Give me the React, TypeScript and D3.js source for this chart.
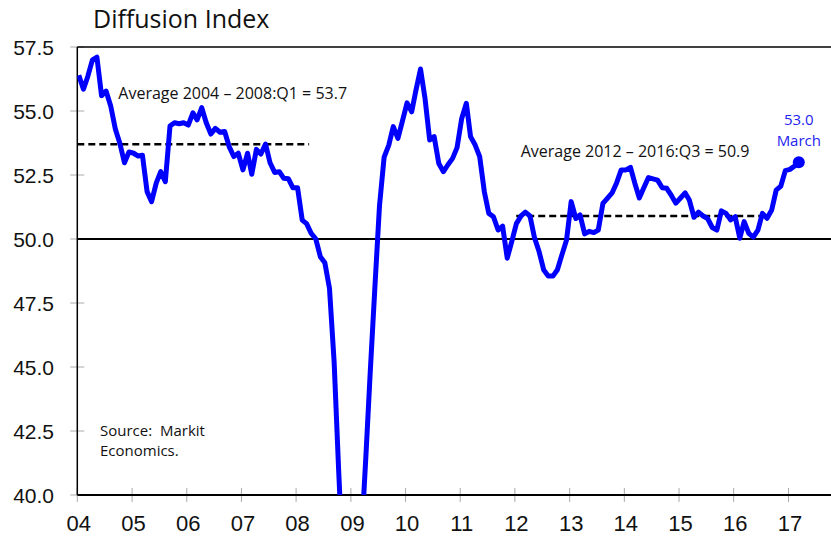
import React, { useEffect, useRef } from "react";
import * as d3 from "d3";

// monthly diffusion index, Jan 2004 .. Mar 2017
const startYear = 2004;
const values: number[] = [
  // 2004
  56.4, 55.85, 56.35, 57.0, 57.1, 55.6, 55.78, 55.2, 54.3, 53.74, 52.98, 53.4,
  // 2005
  53.35, 53.24, 53.27, 51.85, 51.46, 52.18, 52.63, 52.24, 54.41, 54.54, 54.5, 54.54,
  // 2006
  54.45, 54.93, 54.65, 55.13, 54.54, 54.1, 54.32, 54.17, 54.2, 53.61, 53.22, 53.35,
  // 2007
  52.7, 53.35, 52.53, 53.5, 53.32, 53.71, 52.98, 52.6, 52.63, 52.37, 52.35, 52.0,
  // 2008
  52.0, 50.74, 50.6, 50.22, 50.01, 49.31, 49.07, 48.07, 45.2, 41.0, 37.0, 35.8,
  // 2009
  35.0, 36.3, 38.2, 41.5, 44.9, 48.2, 51.3, 53.2, 53.67, 54.39, 53.93, 54.6,
  // 2010
  55.32, 54.97, 55.8, 56.64, 55.49, 53.87, 54.0, 52.95, 52.63, 52.9, 53.15, 53.57,
  // 2011
  54.71, 55.3, 54.0, 53.67, 53.22, 51.85, 51.0, 50.87, 50.35, 50.5, 49.25, 49.9,
  // 2012
  50.6, 50.9, 51.05, 50.9, 50.05, 49.5, 48.8, 48.55, 48.55, 48.8, 49.4, 49.96,
  // 2013
  51.46, 50.8, 50.94, 50.2, 50.3, 50.25, 50.35, 51.39, 51.6, 51.8, 52.2, 52.7,
  // 2014
  52.7, 52.8, 52.2, 51.6, 52.0, 52.4, 52.35, 52.3, 52.0, 51.98, 51.7, 51.4,
  // 2015
  51.6, 51.8, 51.52, 50.85, 51.05, 50.9, 50.8, 50.45, 50.35, 51.1, 51.0, 50.75,
  // 2016
  50.87, 50.03, 50.68, 50.22, 50.07, 50.35, 51.0, 50.81, 51.13, 51.91, 52.07, 52.67,
  // 2017
  52.72, 52.85, 53.0,
];

const yTicks = [40, 42.5, 45, 47.5, 50, 52.5, 55, 57.5];
const xTickYears = d3.range(2004, 2018);

// averages drawn as dashed lines
const avgLabels = ["Average 2004 \u2013 2008:Q1 = 53.7", "Average 2012 \u2013 2016:Q3 = 50.9"];
const avgValues = [53.7, 50.9];
const avgStarts = [new Date(2004, 0, 1), new Date(2012, 0, 10)];
const avgEnds = [new Date(2008, 2, 28), new Date(2016, 7, 15)];

const lastLabel = ["53.0", "March"];
const sourceLines = ["Source:  Markit", "Economics."];

const App = () => {
  const ref = useRef<SVGSVGElement>(null);
  const [width, height] = [831, 537];
  const margin = { top: 47, right: 0, bottom: 42, left: 77.3 };

  useEffect(() => {
    const svg = d3.select(ref.current);
    svg.selectAll("*").remove();

    const dates = values.map((v, i) => new Date(startYear, i, 11));

    const x = d3
      .scaleTime()
      .domain([new Date(2004, 0, 1), new Date(2017, 9, 12)])
      .range([margin.left, width - margin.right]);
    const y = d3
      .scaleLinear()
      .domain([40, 57.5])
      .range([height - margin.bottom, margin.top]);

    const annoFont = "'Open Sans', 'Noto Sans', sans-serif";
    const numFont = "'Liberation Sans', Arial, sans-serif";

    // clip for the line (it goes below 40)
    svg
      .append("defs")
      .append("clipPath")
      .attr("id", "plotclip")
      .append("rect")
      .attr("x", margin.left)
      .attr("y", margin.top - 10)
      .attr("width", width - margin.left)
      .attr("height", y(40) - margin.top + 10);

    // title
    svg
      .append("text")
      .attr("x", 93)
      .attr("y", 28)
      .style("font-family", annoFont)
      .style("font-size", "25px")
      .style("fill", "#111")
      .text("Diffusion Index");

    // y ticks + labels
    const yAxis = svg.append("g");
    yAxis
      .selectAll("line")
      .data(yTicks)
      .join("line")
      .attr("x1", margin.left - 7)
      .attr("x2", margin.left + 7)
      .attr("y1", (d) => y(d))
      .attr("y2", (d) => y(d))
      .attr("stroke", "#aaa")
      .attr("stroke-width", 1);
    yAxis
      .selectAll("text")
      .data(yTicks)
      .join("text")
      .attr("x", 54)
      .attr("y", (d) => y(d))
      .attr("dy", "0.36em")
      .attr("text-anchor", "end")
      .style("font-family", numFont)
      .style("font-size", "21px")
      .style("fill", "#111")
      .text((d) => d3.format(".1f")(d));

    // x ticks + labels
    const xAxis = svg.append("g");
    xAxis
      .selectAll("line")
      .data(xTickYears)
      .join("line")
      .attr("x1", (d) => x(new Date(d, 0, 1)))
      .attr("x2", (d) => x(new Date(d, 0, 1)))
      .attr("y1", y(40) - 7)
      .attr("y2", y(40) + 7)
      .attr("stroke", "#aaa")
      .attr("stroke-width", 1);
    xAxis
      .selectAll("text")
      .data(xTickYears)
      .join("text")
      .attr("x", (d) => x(new Date(d, 0, 1)) + 1.5)
      .attr("y", 530.5)
      .attr("text-anchor", "middle")
      .style("font-family", numFont)
      .style("font-size", "22px")
      .style("fill", "#111")
      .text((d) => String(d % 100).padStart(2, "0"));

    // frame: left axis, top border, bottom axis
    svg
      .append("line")
      .attr("x1", margin.left)
      .attr("x2", margin.left)
      .attr("y1", margin.top)
      .attr("y2", y(40))
      .attr("stroke", "#000")
      .attr("stroke-width", 1.5);
    svg
      .append("line")
      .attr("x1", margin.left)
      .attr("x2", width)
      .attr("y1", margin.top)
      .attr("y2", margin.top)
      .attr("stroke", "#000")
      .attr("stroke-width", 1.5);
    svg
      .append("line")
      .attr("x1", margin.left)
      .attr("x2", width)
      .attr("y1", y(40))
      .attr("y2", y(40))
      .attr("stroke", "#000")
      .attr("stroke-width", 2);

    // 50 reference line
    svg
      .append("line")
      .attr("x1", margin.left)
      .attr("x2", width)
      .attr("y1", y(50))
      .attr("y2", y(50))
      .attr("stroke", "#000")
      .attr("stroke-width", 2);

    // average dashed lines
    avgValues.forEach((v, i) => {
      svg
        .append("line")
        .attr("x1", x(avgStarts[i]))
        .attr("x2", x(avgEnds[i]))
        .attr("y1", y(v))
        .attr("y2", y(v))
        .attr("stroke", "#000")
        .attr("stroke-width", 2.5)
        .attr("stroke-dasharray", "7,4");
    });

    // main line
    const line = d3
      .line<number>()
      .x((d, i) => x(dates[i]))
      .y((d) => y(d));
    svg
      .append("path")
      .datum(values)
      .attr("clip-path", "url(#plotclip)")
      .attr("d", line)
      .style("fill", "none")
      .style("stroke", "#0000ff")
      .style("stroke-width", 5)
      .style("stroke-linejoin", "round");

    // last point marker
    const li = values.length - 1;
    svg
      .append("circle")
      .attr("cx", x(dates[li]))
      .attr("cy", y(values[li]))
      .attr("r", 6)
      .style("fill", "#0000ff");

    lastLabel.forEach((t, i) => {
      svg
        .append("text")
        .attr("x", x(dates[li]))
        .attr("y", 125 + i * 21)
        .attr("text-anchor", "middle")
        .style("font-family", annoFont)
        .style("font-size", "15px")
        .style("fill", "#2424f0")
        .text(t);
    });

    // average labels
    const avgLabelX = [118.3, 520.7];
    const avgLabelY = [99, 157];
    avgLabels.forEach((t, i) => {
      svg
        .append("text")
        .attr("x", avgLabelX[i])
        .attr("y", avgLabelY[i])
        .style("font-family", annoFont)
        .style("font-size", "16px")
        .style("fill", "#111")
        .text(t);
    });

    // source note
    sourceLines.forEach((t, i) => {
      svg
        .append("text")
        .attr("x", 100)
        .attr("y", 436 + i * 20)
        .style("font-family", annoFont)
        .style("font-size", "15px")
        .style("white-space", "pre")
        .style("fill", "#111")
        .text(t);
    });
  }, []);

  return (
    <svg
      ref={ref}
      width={width}
      height={height}
      style={{ position: "absolute", left: 0, top: 0, background: "#fff" }}
    ></svg>
  );
};

export default App;
